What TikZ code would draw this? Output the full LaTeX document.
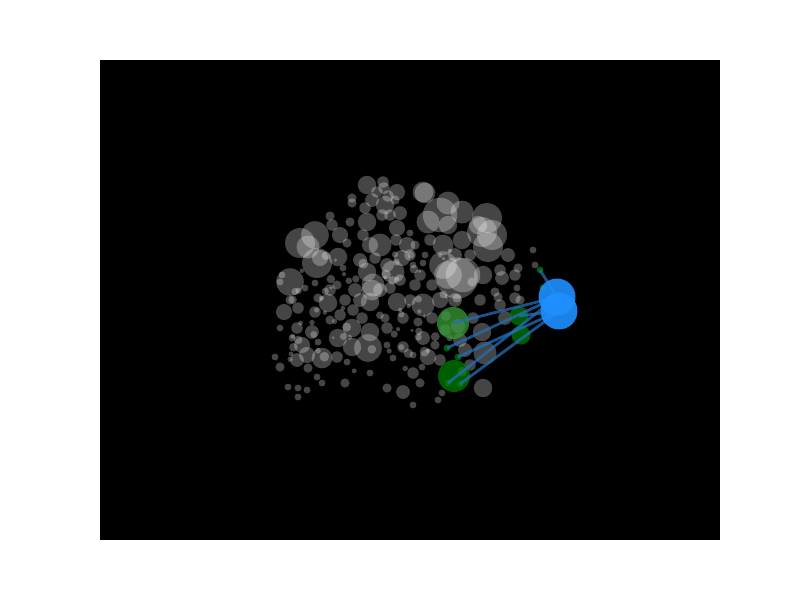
\documentclass[tikz,border=0pt]{standalone}
\begin{document}
\begin{tikzpicture}[x=1pt,y=-1pt,
  greydot/.style={fill=white,fill opacity=0.27},
  greendot/.style={fill={rgb,255:red,0;green,128;blue,0},fill opacity=0.72},
  bluedot/.style={fill={rgb,255:red,30;green,144;blue,255},fill opacity=0.9},
  linkline/.style={draw={rgb,255:red,35;green,110;blue,185},line width=2.8pt,draw opacity=0.75}]
\useasboundingbox (0,0) rectangle (800,600);
\fill[white] (0,0) rectangle (800,600);
\fill[black] (100,60) rectangle (720,540);
% grey cloud
\foreach \x/\y/\r in {
352/198/4,352/203/4,330/216/4,332/225/5,340/235/7,300/243/13,315/235/12,308/247/10,317/263/13,320/258/7,
338/257/8,350/222/4,347/243/4,343/268/3,290/282/12,282/275/3,280/282/3,305/288/3,337/285/4,315/283/3,
367/185/8,383/182/5,377/192/5,397/192/7,423/192/9,385/205/8,382/215/5,400/213/6,367/222/8,440/215/15,
428/222/10,448/203/10,448/225/8,397/228/7,410/233/3,363/235/5,380/245/10,407/245/7,370/245/7,443/245/9,
425/255/3,402/258/7,393/272/10,367/272/8,387/265/6,443/265/12,448/275/12,420/275/5,413/265/3,423/263/3,
373/285/10,390/288/5,415/285/5,432/285/5,
462/212/10,487/218/13,482/232/13,492/235/13,488/247/13,478/225/8,462/240/8,508/255/6,533/250/3,535/265/3,
518/268/4,515/275/5,502/278/6,483/275/8,463/275/15,472/282/4,517/288/3,495/292/4,
284/312/7,298/308/5,315/312/5,328/303/8,280/328/3,297/328/5,312/332/6,292/338/3,302/345/7,318/342/3,
338/338/8,352/328/8,353/310/5,322/358/9,307/355/7,297/360/6,280/367/4,275/357/3,308/368/4,337/357/5,
347/362/3,317/377/3,345/383/4,322/383/3,288/387/3,298/388/3,307/390/3,298/397/3,352/347/8,
370/302/8,397/302/8,423/305/10,370/332/8,387/328/5,368/348/12,403/347/5,423/338/6,387/345/3,393/358/3,
413/355/3,428/357/7,370/373/3,413/373/5,422/367/3,420/383/4,387/388/4,403/392/6,413/405/3,442/393/3,438/400/3,
483/388/8,485/353/10,482/332/8,505/318/6,473/318/5,515/298/5,498/297/4,
360/300/6,345/300/5,330/320/4,355/290/6,380/290/6,400/280/5,410/300/5,440/300/7,455/300/6,460/340/6,
445/330/5,435/345/4,440/360/5,465/350/6,470/365/5,480/300/5,500/305/5,520/300/4,330/290/5,290/300/4,
318/298/4,340/315/5,362/318/5,385/318/4,403/318/5,418/322/4,432/318/5,396/240/5,415/245/4,430/240/5,
372/200/6,388/196/5,365/208/5,390/215/5,360/260/6,375/258/5,410/255/5,455/255/6,470/255/5,500/270/5,
384/188/5,395/200/4,457/278/18,372/290/9,425/193/9}
{ \fill[greydot] (\x,\y) circle ({1.15*\r}); }
% small scattered dots
\pgfmathsetseed{11}
\foreach \i in {1,...,70} {
  \pgfmathsetmacro\px{290+rnd*175}
  \pgfmathsetmacro\py{250+rnd*125}
  \pgfmathsetmacro\pr{1.5+rnd*3.5}
  \fill[greydot] (\px,\py) circle (\pr);
}
% named positions
\coordinate (b1) at (557,297);
\coordinate (b2) at (559,311);
\coordinate (g1) at (453,323);
\coordinate (g2) at (454,376);
\coordinate (m1) at (519,316);
\coordinate (m2) at (521,335);
\coordinate (s1) at (540,270);
\coordinate (s2) at (543,288);
\coordinate (s3) at (447,348);
\coordinate (s4) at (458,357);
\coordinate (s5) at (448,383);
\coordinate (s6) at (460,384);
% green
\fill[greendot] (g1) circle (16);
\fill[greendot] (g2) circle (16);
\fill[greendot] (m1) circle (9.5);
\fill[greendot] (m2) circle (9.5);
\foreach \c in {s1,s2,s3,s4,s5,s6} { \fill[greendot] (\c) circle (3.5); }
% the first green circle lies under grey dots: lighter tint
\fill[white,fill opacity=0.16] (g1) circle (16);
\foreach \x/\y/\r in {458/326/7,446/316/5}
{ \fill[white,fill opacity=0.1] (\x,\y) circle (\r); }
% links
\draw[linkline] (g1) -- (b1);
\draw[linkline] (s3) -- (b1);
\draw[linkline] (s4) -- (b2);
\draw[linkline] (s5) -- (b1);
\draw[linkline] (s6) -- (b2);
\draw[linkline] (s1) -- (b1);
\draw[linkline] (m1) -- (b2);
% blue
\fill[bluedot] (b1) circle (18.5);
\fill[bluedot] (b2) circle (18.5);
\end{tikzpicture}
\end{document}
